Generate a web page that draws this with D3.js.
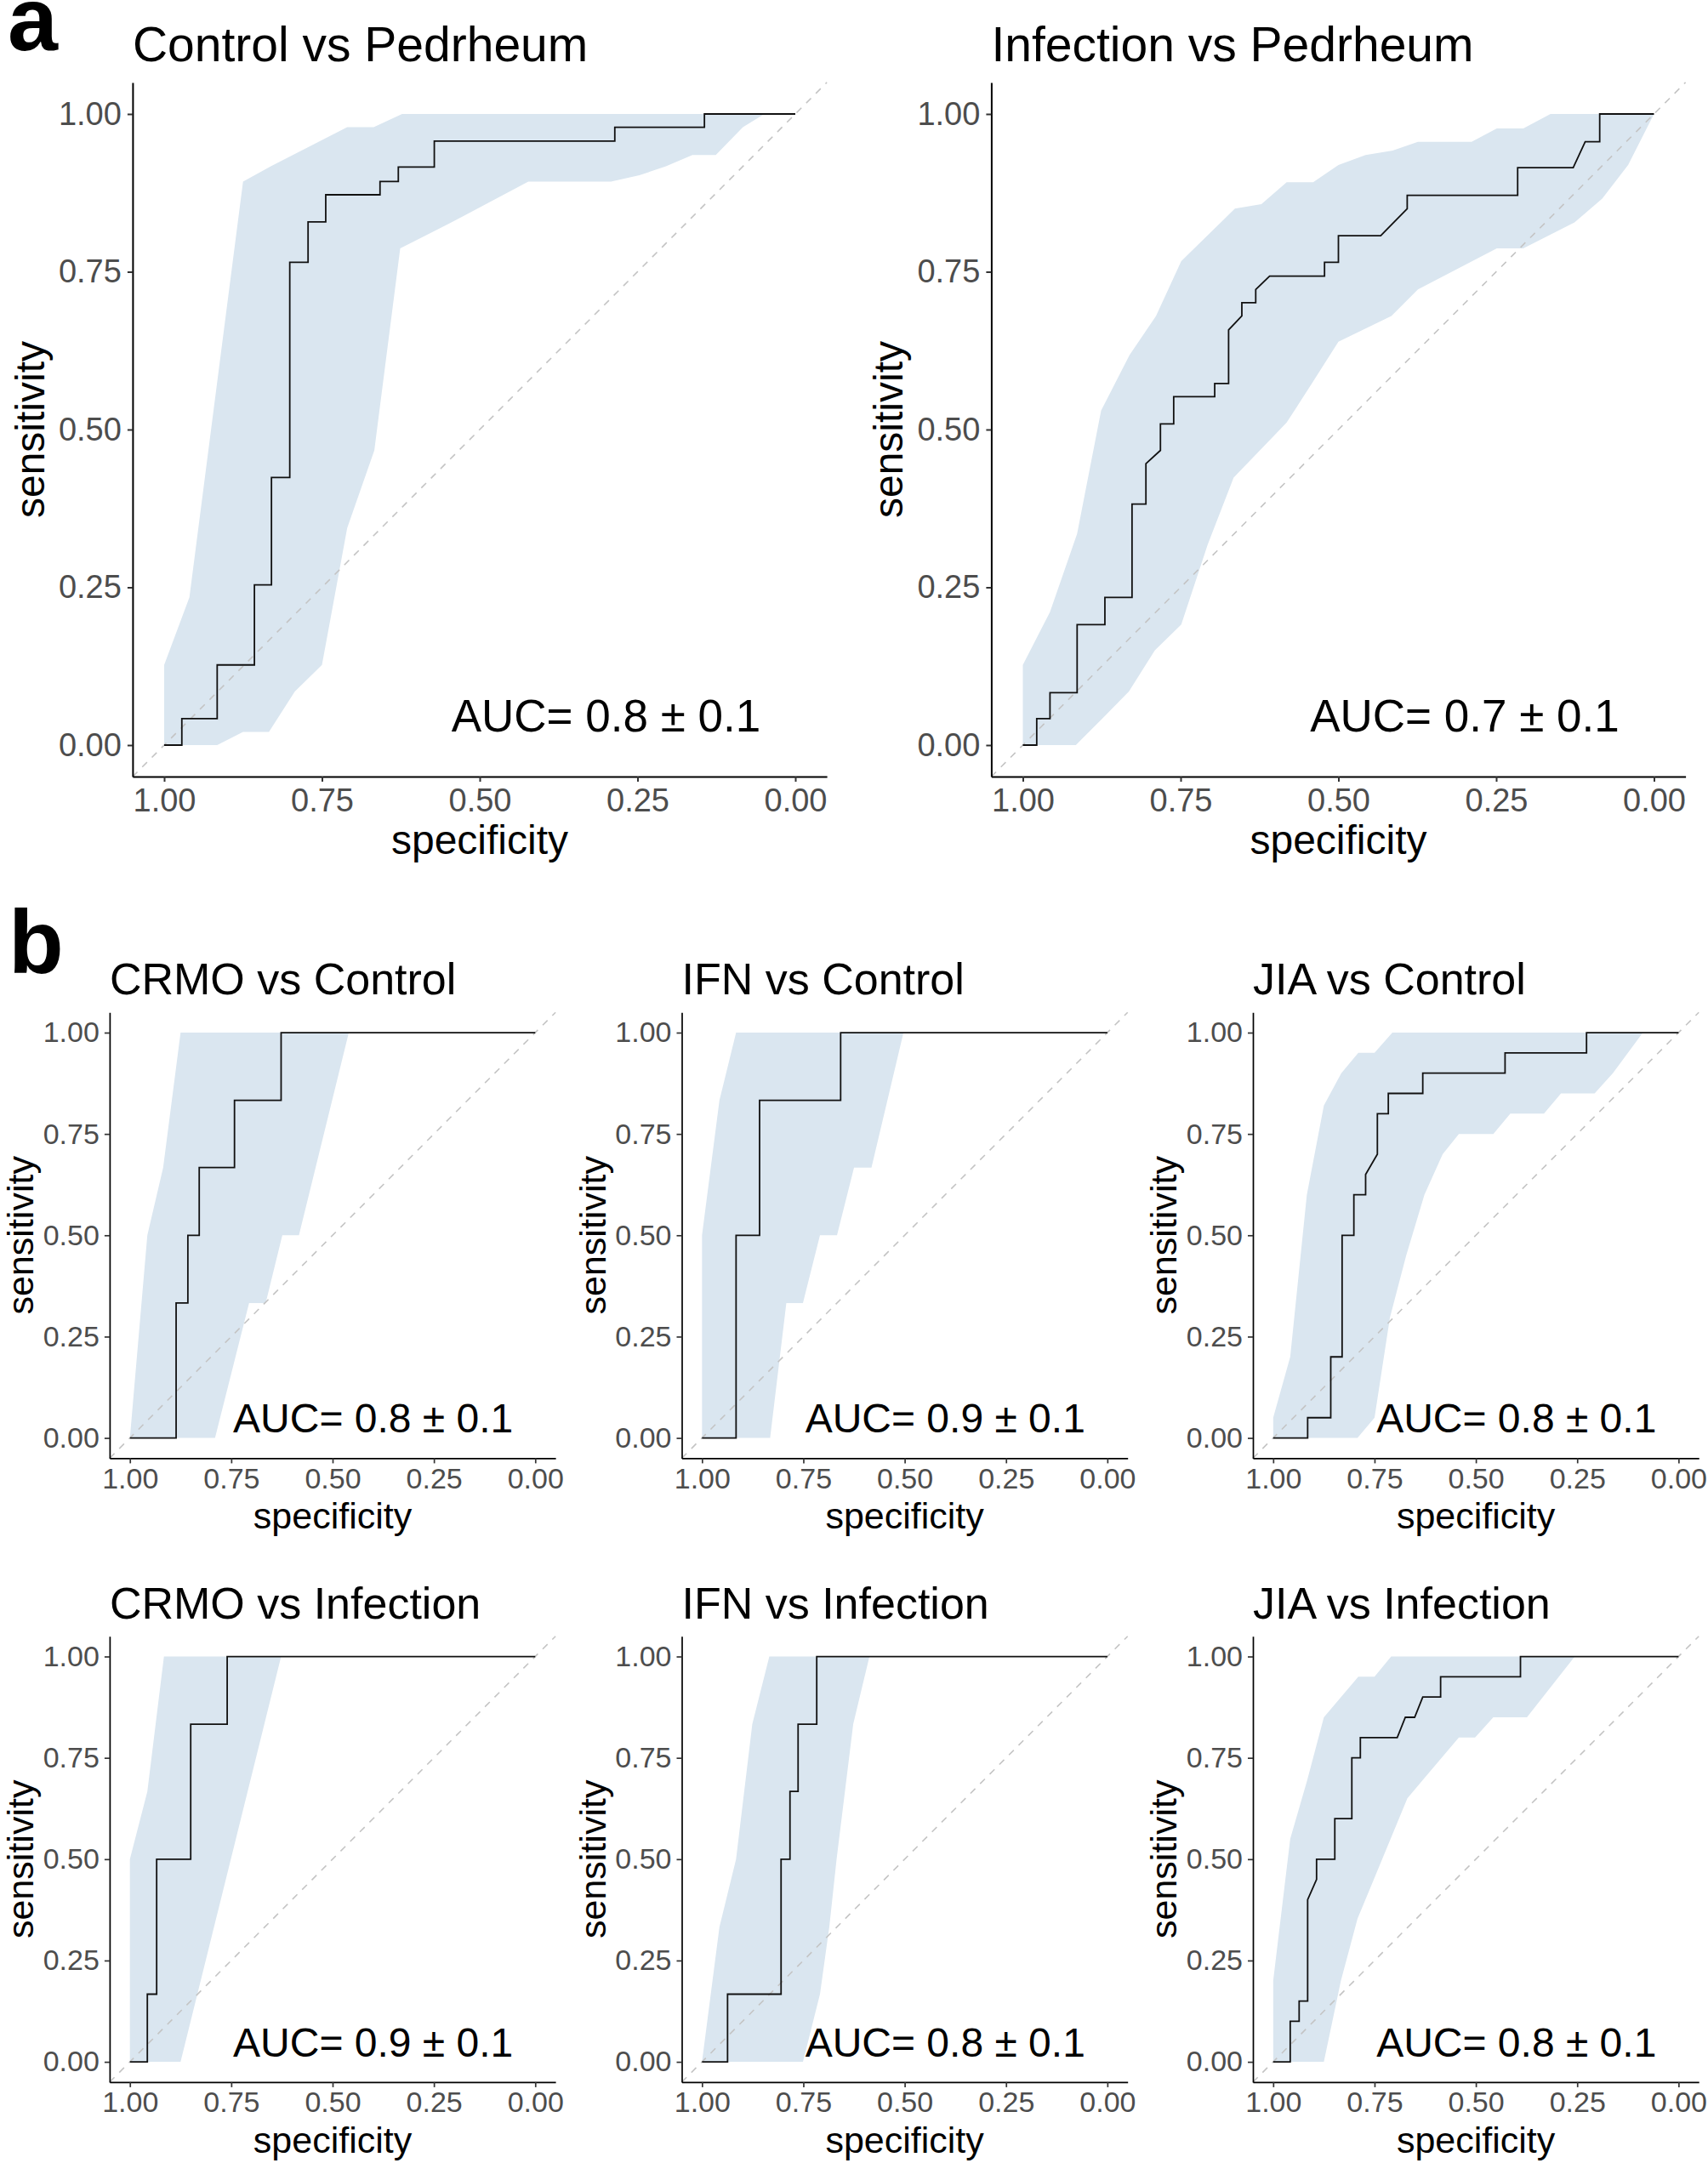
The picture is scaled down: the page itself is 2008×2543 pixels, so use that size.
<!DOCTYPE html>
<html>
<head>
<meta charset="utf-8">
<script src="https://cdn.jsdelivr.net/npm/d3@7"></script>
<style>
  body { margin: 0; background: #fff; }
  svg { display: block; font-family: "Liberation Sans", Arial, sans-serif; }
</style>
</head>
<body>
<div id="chart"></div>
<script>
// ROC curves and CI bands as [specificity, sensitivity]
const titles = ["Control vs Pedrheum", "Infection vs Pedrheum",
    "CRMO vs Control", "IFN vs Control", "JIA vs Control",
    "CRMO vs Infection", "IFN vs Infection", "JIA vs Infection"];
const aucLabels = ["AUC= 0.8 \u00b1 0.1", "AUC= 0.7 \u00b1 0.1",
    "AUC= 0.8 \u00b1 0.1", "AUC= 0.9 \u00b1 0.1", "AUC= 0.8 \u00b1 0.1",
    "AUC= 0.9 \u00b1 0.1", "AUC= 0.8 \u00b1 0.1", "AUC= 0.8 \u00b1 0.1"];
// where the AUC label is annotated (specificity, sensitivity)
const aucSpec = [0.3, 0.3, 0.4, 0.4, 0.4, 0.4, 0.4, 0.4];
const aucSens = [0.046, 0.046, 0.048, 0.048, 0.048, 0.048, 0.048, 0.048];
const tickVals = [0, 0.25, 0.5, 0.75, 1];

const rocCtrlPed = [[1,0],[0.972,0],[0.972,0.042],[0.916,0.042],[0.916,0.127],[0.857,0.127],[0.857,0.254],[0.830,0.254],[0.830,0.424],[0.801,0.424],[0.801,0.765],[0.772,0.765],[0.772,0.829],[0.744,0.829],[0.744,0.872],[0.658,0.872],[0.658,0.893],[0.629,0.893],[0.629,0.916],[0.572,0.916],[0.572,0.957],[0.286,0.957],[0.286,0.979],[0.144,0.979],[0.144,1],[0,1]];
const upCtrlPed = [[1,0.127],[0.960,0.234],[0.875,0.893],[0.831,0.917],[0.710,0.979],[0.668,0.979],[0.623,1],[0,1]];
const loCtrlPed = [[1,0],[0.916,0],[0.875,0.021],[0.834,0.021],[0.793,0.085],[0.750,0.127],[0.710,0.344],[0.667,0.467],[0.626,0.787],[0.547,0.827],[0.423,0.893],[0.292,0.893],[0.247,0.903],[0.205,0.917],[0.163,0.935],[0.126,0.935],[0.083,0.979],[0.049,1],[0,1]];

const rocInfPed = [[1,0],[0.978,0],[0.978,0.042],[0.957,0.042],[0.957,0.083],[0.914,0.083],[0.914,0.191],[0.870,0.191],[0.870,0.234],[0.827,0.234],[0.827,0.382],[0.805,0.382],[0.805,0.446],[0.782,0.467],[0.782,0.509],[0.761,0.509],[0.761,0.552],[0.696,0.552],[0.696,0.573],[0.674,0.573],[0.674,0.658],[0.653,0.680],[0.653,0.701],[0.631,0.701],[0.631,0.722],[0.609,0.743],[0.522,0.743],[0.522,0.765],[0.500,0.765],[0.500,0.807],[0.433,0.807],[0.391,0.850],[0.391,0.871],[0.216,0.871],[0.216,0.915],[0.128,0.915],[0.109,0.956],[0.086,0.956],[0.086,1],[0,1]];
const upInfPed = [[1,0.127],[0.957,0.211],[0.914,0.335],[0.876,0.530],[0.831,0.618],[0.789,0.680],[0.749,0.767],[0.664,0.850],[0.622,0.857],[0.582,0.892],[0.540,0.892],[0.500,0.919],[0.457,0.935],[0.414,0.942],[0.374,0.956],[0.289,0.956],[0.249,0.977],[0.207,0.977],[0.164,1],[0,1]];
const loInfPed = [[1,0],[0.916,0],[0.874,0.042],[0.832,0.085],[0.791,0.150],[0.749,0.191],[0.707,0.318],[0.666,0.424],[0.582,0.511],[0.542,0.573],[0.500,0.639],[0.416,0.680],[0.374,0.722],[0.249,0.787],[0.207,0.787],[0.126,0.828],[0.082,0.866],[0.041,0.919],[0,1]];

const rocCrmoCtrl = [[1,0],[0.886,0],[0.886,0.333],[0.857,0.333],[0.857,0.5],[0.829,0.5],[0.829,0.667],[0.742,0.667],[0.742,0.833],[0.627,0.833],[0.627,1],[0,1]];
const upCrmoCtrl = [[1,0],[0.957,0.5],[0.918,0.667],[0.875,1],[0,1]];
const loCrmoCtrl = [[1,0],[0.790,0],[0.706,0.333],[0.665,0.333],[0.624,0.5],[0.583,0.5],[0.460,1],[0,1]];

const rocIfnCtrl = [[1,0],[0.916,0],[0.916,0.5],[0.858,0.5],[0.858,0.833],[0.658,0.833],[0.658,1],[0,1]];
const upIfnCtrl = [[1,0.5],[0.957,0.833],[0.916,1],[0,1]];
const loIfnCtrl = [[1,0],[0.832,0],[0.792,0.333],[0.751,0.333],[0.709,0.5],[0.667,0.5],[0.625,0.667],[0.582,0.667],[0.503,1],[0,1]];

const rocJiaCtrl = [[1,0],[0.915,0],[0.915,0.05],[0.858,0.05],[0.858,0.2],[0.830,0.2],[0.830,0.5],[0.801,0.5],[0.801,0.6],[0.772,0.6],[0.772,0.65],[0.743,0.7],[0.743,0.8],[0.716,0.8],[0.716,0.85],[0.631,0.85],[0.631,0.9],[0.428,0.9],[0.428,0.95],[0.227,0.95],[0.227,1],[0,1]];
const upJiaCtrl = [[1,0.05],[0.958,0.2],[0.917,0.6],[0.875,0.82],[0.832,0.9],[0.790,0.95],[0.750,0.95],[0.706,1],[0,1]];
const loJiaCtrl = [[1,0],[0.792,0],[0.750,0.05],[0.712,0.297],[0.672,0.45],[0.627,0.6],[0.582,0.7],[0.542,0.75],[0.457,0.75],[0.415,0.8],[0.332,0.8],[0.290,0.85],[0.207,0.85],[0.162,0.9],[0.088,1],[0,1]];

const rocCrmoInf = [[1,0],[0.957,0],[0.957,0.167],[0.934,0.167],[0.934,0.5],[0.850,0.5],[0.850,0.833],[0.760,0.833],[0.760,1],[0,1]];
const upCrmoInf = [[1,0.5],[0.957,0.667],[0.916,1],[0,1]];
const loCrmoInf = [[1,0],[0.875,0],[0.627,1],[0,1]];

const rocIfnInf = [[1,0],[0.937,0],[0.937,0.167],[0.805,0.167],[0.805,0.5],[0.783,0.5],[0.783,0.667],[0.763,0.667],[0.763,0.833],[0.717,0.833],[0.717,1],[0,1]];
const upIfnInf = [[1,0],[0.957,0.333],[0.916,0.5],[0.876,0.833],[0.834,1],[0,1]];
const loIfnInf = [[1,0],[0.751,0],[0.709,0.167],[0.686,0.333],[0.668,0.5],[0.627,0.833],[0.587,1],[0,1]];

const rocJiaInf = [[1,0],[0.958,0],[0.958,0.1],[0.936,0.1],[0.936,0.15],[0.915,0.15],[0.915,0.4],[0.893,0.45],[0.893,0.5],[0.848,0.5],[0.848,0.6],[0.806,0.6],[0.806,0.75],[0.785,0.75],[0.785,0.8],[0.694,0.8],[0.674,0.85],[0.651,0.85],[0.631,0.9],[0.587,0.9],[0.587,0.95],[0.390,0.95],[0.390,1],[0,1]];
const upJiaInf = [[1,0.2],[0.958,0.55],[0.916,0.695],[0.875,0.85],[0.790,0.95],[0.750,0.95],[0.709,1],[0,1]];
const loJiaInf = [[1,0],[0.875,0],[0.833,0.2],[0.792,0.353],[0.748,0.459],[0.669,0.65],[0.627,0.7],[0.542,0.8],[0.502,0.8],[0.457,0.85],[0.374,0.85],[0.256,1],[0,1]];

const rocs = [rocCtrlPed, rocInfPed, rocCrmoCtrl, rocIfnCtrl, rocJiaCtrl, rocCrmoInf, rocIfnInf, rocJiaInf];
const uppers = [upCtrlPed, upInfPed, upCrmoCtrl, upIfnCtrl, upJiaCtrl, upCrmoInf, upIfnInf, upJiaInf];
const lowers = [loCtrlPed, loInfPed, loCrmoCtrl, loIfnCtrl, loJiaCtrl, loCrmoInf, loIfnInf, loJiaInf];

// Figure size and panel boxes (left, top, side)
const width = 2008;
const height = 2543;
const styleA = {title: 57, tick: 38, axisTitle: 48, auc: 53, titleGap: 25, xTitleGap: 91, yTitleGap: 104, padX: 8, padY: 7, axisW: 2};
const styleB = {title: 52, tick: 34, axisTitle: 43, auc: 48, titleGap: 21, xTitleGap: 83, yTitleGap: 90, padX: 5, padY: 6, axisW: 1.7};
const boxes = [
    {left: 155.9, top: 96.9, size: 816.2, st: styleA},
    {left: 1165.4, top: 96.9, size: 816.2, st: styleA},
    {left: 128.9, top: 1190.2, size: 524.2, st: styleB},
    {left: 801.5, top: 1190.2, size: 524.2, st: styleB},
    {left: 1473, top: 1190.2, size: 524.2, st: styleB},
    {left: 128.9, top: 1923.7, size: 524.2, st: styleB},
    {left: 801.5, top: 1923.7, size: 524.2, st: styleB},
    {left: 1473, top: 1923.7, size: 524.2, st: styleB}
];

const svg = d3.select("#chart").append("svg")
    .attr("width", width)
    .attr("height", height)
    .attr("viewBox", [0, 0, width, height]);

svg.append("rect").attr("width", width).attr("height", height).attr("fill", "#fff");

// figure part letters
svg.append("text").attr("x", 9).attr("y", 59)
    .attr("font-size", 106).attr("font-weight", "bold").text("a");
svg.append("text").attr("x", 10).attr("y", 1144)
    .attr("font-size", 106).attr("font-weight", "bold").text("b");

function drawPanel(i) {
    const b = boxes[i];
    const st = b.st;

    // specificity runs backwards, ggplot style 5% expansion both ways
    const x = d3.scaleLinear().domain([1.05, -0.05]).range([b.left, b.left + b.size]);
    const y = d3.scaleLinear().domain([-0.05, 1.05]).range([b.top + b.size, b.top]);
    const line = d3.line().x(d => x(d[0])).y(d => y(d[1]));

    const g = svg.append("g");

    // confidence band: upper edge then lower edge back
    const band = uppers[i].concat(lowers[i].slice().reverse());
    g.append("path")
        .attr("d", line(band) + "Z")
        .attr("fill", "#dae6f0");

    // chance diagonal
    g.append("path")
        .attr("d", line([[1.05, -0.05], [-0.05, 1.05]]))
        .attr("fill", "none")
        .attr("stroke", "#c4c4c4")
        .attr("stroke-width", 1.6)
        .attr("stroke-dasharray", "8,8");

    // ROC curve
    g.append("path")
        .attr("d", line(rocs[i]))
        .attr("fill", "none")
        .attr("stroke", "#111")
        .attr("stroke-width", 1.8);

    // axes
    const xAxis = g.append("g")
        .attr("transform", `translate(0,${b.top + b.size})`)
        .call(d3.axisBottom(x).tickValues(tickVals).tickFormat(d3.format(".2f"))
            .tickSize(6).tickSizeOuter(0).tickPadding(st.padX));
    const yAxis = g.append("g")
        .attr("transform", `translate(${b.left},0)`)
        .call(d3.axisLeft(y).tickValues(tickVals).tickFormat(d3.format(".2f"))
            .tickSize(6).tickSizeOuter(0).tickPadding(st.padY));

    [xAxis, yAxis].forEach(ax => {
        ax.attr("font-family", null).attr("font-size", st.tick);
        ax.select(".domain").attr("stroke", "#000").attr("stroke-width", st.axisW);
        ax.selectAll(".tick line").attr("stroke", "#333").attr("stroke-width", st.axisW);
        ax.selectAll(".tick text").attr("fill", "#4d4d4d");
    });

    // title
    g.append("text")
        .attr("x", b.left)
        .attr("y", b.top - st.titleGap)
        .attr("font-size", st.title)
        .attr("fill", "#000")
        .text(titles[i]);

    // axis titles
    g.append("text")
        .attr("x", b.left + b.size / 2)
        .attr("y", b.top + b.size + st.xTitleGap)
        .attr("text-anchor", "middle")
        .attr("font-size", st.axisTitle)
        .text("specificity");

    g.append("text")
        .attr("transform", `translate(${b.left - st.yTitleGap},${b.top + b.size / 2}) rotate(-90)`)
        .attr("text-anchor", "middle")
        .attr("font-size", st.axisTitle)
        .text("sensitivity");

    // AUC annotation
    g.append("text")
        .attr("x", x(aucSpec[i]))
        .attr("y", y(aucSens[i]))
        .attr("dy", "0.35em")
        .attr("text-anchor", "middle")
        .attr("font-size", st.auc)
        .text(aucLabels[i]);
}

d3.range(titles.length).forEach(drawPanel);
</script>
</body>
</html>
